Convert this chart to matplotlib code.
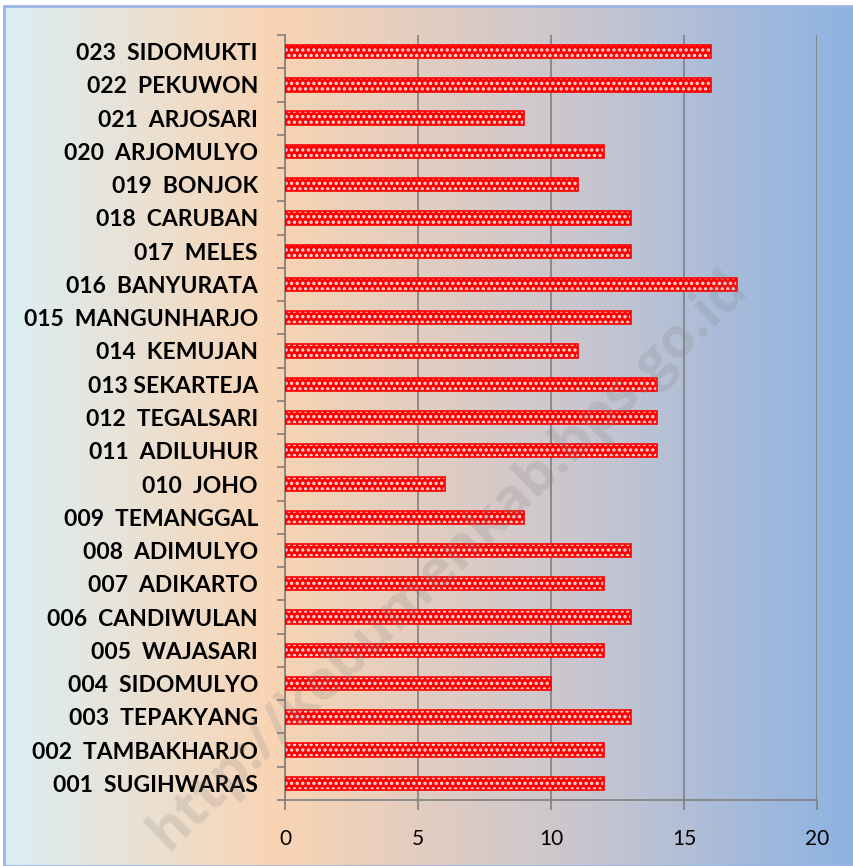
import numpy as np
import matplotlib.pyplot as plt
from matplotlib.colors import LinearSegmentedColormap
from matplotlib.patches import Rectangle

# nama desa (urut dari bawah ke atas)
desa = ['001  SUGIHWARAS', '002  TAMBAKHARJO', '003  TEPAKYANG', '004  SIDOMULYO',
        '005  WAJASARI', '006  CANDIWULAN', '007  ADIKARTO', '008  ADIMULYO',
        '009  TEMANGGAL', '010  JOHO', '011  ADILUHUR', '012  TEGALSARI',
        '013 SEKARTEJA', '014  KEMUJAN', '015  MANGUNHARJO', '016  BANYURATA',
        '017  MELES', '018  CARUBAN', '019  BONJOK', '020  ARJOMULYO',
        '021  ARJOSARI', '022  PEKUWON', '023  SIDOMUKTI']
nilai = [12, 12, 13, 10, 12, 13, 12, 13, 9, 6, 14, 14, 14, 11, 13, 17,
         13, 13, 11, 12, 9, 16, 16]
xticks = [0, 5, 10, 15, 20]

W, H = 854, 866
fig = plt.figure(figsize=(W / 100, H / 100), dpi=100)
plt.rcParams['hatch.linewidth'] = 1.6

# latar gradasi
bg = fig.add_axes([0, 0, 1, 1], zorder=0)
cmap = LinearSegmentedColormap.from_list('bg', [
    (0.0, '#dbeef4'), (0.32, '#f9d4b3'), (0.68, '#c9c6cf'), (1.0, '#8db3e2')])
grad = np.linspace(0, 1, 512).reshape(1, -1)
bg.imshow(grad, aspect='auto', cmap=cmap, extent=[4, W, 0, H - 6])
bg.add_patch(Rectangle((4, 0), W, H - 6, fill=False, edgecolor='#9ab5e4', lw=2))
bg.set_xlim(0, W)
bg.set_ylim(0, H)
bg.axis('off')

ax = fig.add_axes([285 / W, 1 - 800 / H, (817 - 285) / W, (800 - 35) / H], zorder=1)
ax.patch.set_alpha(0)

y = np.arange(len(desa))
ax.barh(y, nilai, height=0.4, color='#ff0000', edgecolor='#ffe0e0', hatch='...',
        linewidth=0, zorder=3)
ax.barh(y, nilai, height=0.4, fill=False, edgecolor='#ff0000', linewidth=1.2, zorder=4)

ax.set_xlim(0, 20)
ax.set_ylim(-0.5, len(desa) - 0.5)
ax.set_xticks(xticks)
ax.set_xticklabels([str(t) for t in xticks], fontsize=15, family='Lato')
ax.set_yticks(y)
ax.set_yticklabels(desa, fontsize=16.5, fontweight='bold', family='Lato')
ax.set_yticks(np.arange(len(desa) + 1) - 0.5, minor=True)
ax.tick_params(axis='y', which='major', length=0, pad=19.5)
ax.tick_params(axis='y', which='minor', length=6, color='#808080', width=1.2)
ax.tick_params(axis='x', length=7, color='#808080', width=1.2, pad=14)
ax.grid(axis='x', color='#808080', lw=1.2, zorder=1)
for s in ['top', 'right']:
    ax.spines[s].set_visible(False)
for s in ['left', 'bottom']:
    ax.spines[s].set_color('#808080')
    ax.spines[s].set_linewidth(1.2)

# watermark (ujungnya terpotong di tepi bawah, seperti aslinya)
fig.text(448 / W, 1 - 560 / H, 'http://kebumenkab.bps.go.id', rotation=44,
         fontsize=40, fontweight='bold', color='#808080', alpha=0.2,
         ha='center', va='center', family='Open Sans', zorder=5)

fig.savefig('out.png', dpi=100)
